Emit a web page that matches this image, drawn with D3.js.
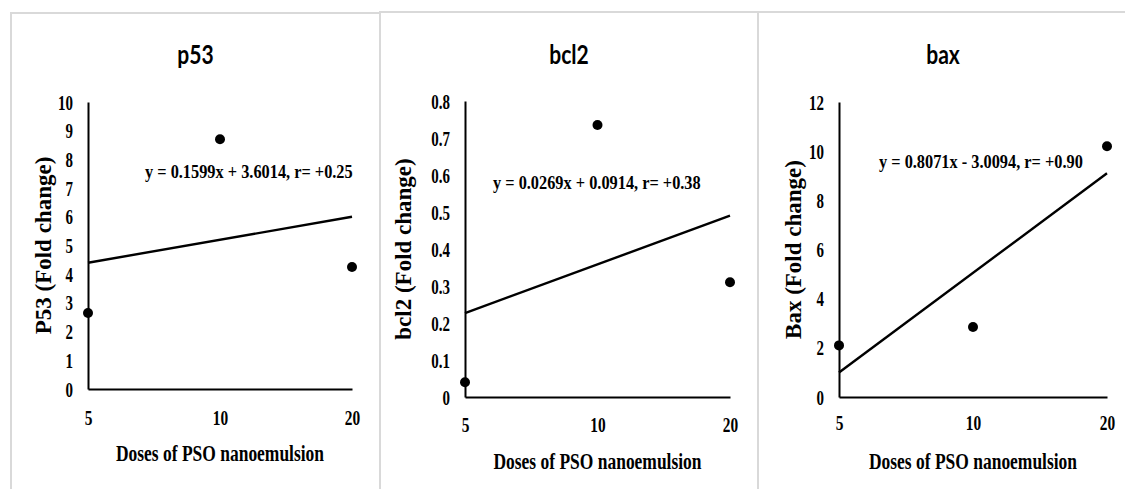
<!DOCTYPE html>
<html>
<head>
<meta charset="utf-8">
<script src="https://cdn.jsdelivr.net/npm/d3@7"></script>
<style>
  html, body { margin: 0; padding: 0; background: #fff; }
  svg { display: block; }
</style>
</head>
<body>
<div id="chart"></div>
<script>
/* Dose categories (evenly spaced on the axis) */
const doses = ["5", "10", "20"];

/* Measured fold changes */
const p53Values  = [2.65, 8.7, 4.25];
const bcl2Values = [0.04, 0.735, 0.31];
const baxValues  = [2.1, 2.85, 10.2];

/* Trend line ends (at first and last dose) */
const p53Trend  = [4.4, 6.0];
const bcl2Trend = [0.227, 0.49];
const baxTrend  = [1.0, 9.1];

/* Y tick labels */
const p53Ticks  = [0, 1, 2, 3, 4, 5, 6, 7, 8, 9, 10];
const bcl2Ticks = [0, 0.1, 0.2, 0.3, 0.4, 0.5, 0.6, 0.7, 0.8];
const baxTicks  = [0, 2, 4, 6, 8, 10, 12];

const titles = ["p53", "bcl2", "bax"];
const yTitles = ["P53 (Fold change)", "bcl2 (Fold change)", "Bax (Fold change)"];
const equations = [
  "y = 0.1599x + 3.6014, r= +0.25",
  "y = 0.0269x + 0.0914, r= +0.38",
  "y = 0.8071x - 3.0094, r= +0.90"
];
const xTitle = "Doses of PSO nanoemulsion";

const W = 1125, H = 489;
const serif = "'Liberation Serif', 'Times New Roman', serif";
const sans = "Lato, 'Open Sans', sans-serif";

const svg = d3.select("#chart").append("svg")
  .attr("width", W).attr("height", H);

/* panel layout */
const panels = [
  { left: 11, right: 380, top: 13, ax: 88, axR: 352, y0: 389, yTop: 102,
    values: p53Values, trend: p53Trend, ticks: p53Ticks, fmt: d3.format("d"),
    eq: { x: 145, y: 178 }, ytX: 43, xTickDy: 36 },
  { left: 380, right: 758, top: 12, ax: 465, axR: 730, y0: 397, yTop: 101,
    values: bcl2Values, trend: bcl2Trend, ticks: bcl2Ticks, fmt: d => d === 0 ? "0" : d3.format(".1f")(d),
    eq: { x: 493, y: 189 }, ytX: 403, xTickDy: 35 },
  { left: 758, right: 1140, top: 12, ax: 839, axR: 1107, y0: 397, yTop: 102,
    values: baxValues, trend: baxTrend, ticks: baxTicks, fmt: d3.format("d"),
    eq: { x: 879, y: 168 }, ytX: 793, xTickDy: 33 }
];

function squeezed(g, x, y, str, size, sx, anchor, family, weight) {
  return g.append("text")
    .attr("transform", `translate(${x},${y}) scale(${sx},1)`)
    .attr("text-anchor", anchor)
    .attr("font-family", family)
    .attr("font-weight", weight)
    .attr("font-size", size)
    .attr("fill", "#000")
    .text(str);
}

panels.forEach((p, i) => {
  const g = svg.append("g");

  /* frame */
  g.append("rect")
    .attr("x", p.left).attr("y", p.top)
    .attr("width", p.right - p.left).attr("height", H + 20)
    .attr("fill", "none").attr("stroke", "#d9d9d9").attr("stroke-width", 2);

  const x = d3.scalePoint().domain(doses).range([p.ax, p.axR]);
  const y = d3.scaleLinear()
    .domain([0, p.ticks[p.ticks.length - 1]])
    .range([p.y0, p.yTop]);

  /* title */
  squeezed(g, (p.left + p.right) / 2 - (i === 2 ? 6 : 0), 64, titles[i], 27, 0.78, "middle", sans, 700);

  /* y axis */
  const yAxis = g.append("g")
    .attr("transform", `translate(${p.ax},0)`)
    .call(d3.axisLeft(y).tickValues(p.ticks).tickFormat(p.fmt).tickSize(0));
  yAxis.select(".domain").attr("stroke", "#000").attr("stroke-width", 2);
  yAxis.selectAll("text")
    .attr("x", null).attr("dy", null)
    .attr("transform", `translate(-15,7) scale(0.68,1)`)
    .attr("font-family", serif).attr("font-weight", 700)
    .attr("font-size", 22).attr("fill", "#000");

  /* x axis */
  const xAxis = g.append("g")
    .attr("transform", `translate(0,${p.y0})`)
    .call(d3.axisBottom(x).tickSize(0).tickSizeOuter(0));
  xAxis.select(".domain").attr("stroke", "#000").attr("stroke-width", 2);
  xAxis.selectAll("text")
    .attr("y", null).attr("dy", null)
    .attr("transform", `translate(0,${p.xTickDy}) scale(0.7,1)`)
    .attr("font-family", serif).attr("font-weight", 700)
    .attr("font-size", 22).attr("fill", "#000");

  /* axis titles */
  squeezed(g, (p.ax + p.axR) / 2, p.y0 + 72, xTitle, 23, 0.76, "middle", serif, 700);

  g.append("text")
    .attr("transform", `translate(${p.ytX + 8},${(p.y0 + p.yTop) / 2}) rotate(-90)`)
    .attr("text-anchor", "middle")
    .attr("font-family", serif).attr("font-weight", 700)
    .attr("font-size", 23).attr("fill", "#000")
    .text(yTitles[i]);

  /* trend line */
  const ends = [doses[0], doses[doses.length - 1]];
  g.append("line")
    .attr("x1", x(ends[0])).attr("y1", y(p.trend[0]))
    .attr("x2", x(ends[1])).attr("y2", y(p.trend[1]))
    .attr("stroke", "#000").attr("stroke-width", 2.4);

  /* points */
  g.selectAll("circle.pt")
    .data(p.values)
    .join("circle")
      .attr("class", "pt")
      .attr("cx", (d, j) => x(doses[j]))
      .attr("cy", d => y(d))
      .attr("r", 5)
      .attr("fill", "#000");

  /* equation label */
  squeezed(g, p.eq.x, p.eq.y, equations[i], 19, 0.86, "start", serif, 700);
});
</script>
</body>
</html>
